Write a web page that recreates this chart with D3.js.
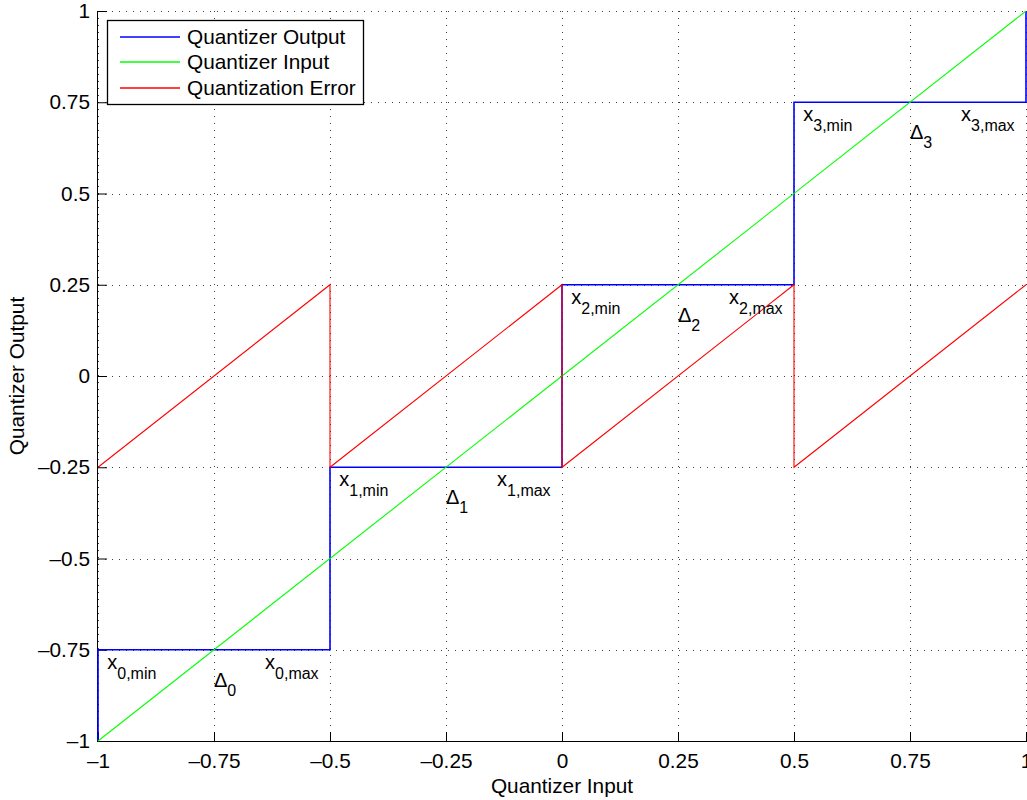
<!DOCTYPE html>
<html>
<head>
<meta charset="utf-8">
<script src="https://cdn.jsdelivr.net/npm/d3@7/dist/d3.min.js"></script>
<style>
  html, body { margin: 0; padding: 0; background: #fff; }
  text { font-family: "Liberation Sans", Arial, Helvetica, sans-serif; fill: #000; }
</style>
</head>
<body>
<svg id="chart" width="1027" height="800"></svg>
<script>
// ---- data ----
const outputX = [-1, -1, -0.5, -0.5, 0, 0, 0.5, 0.5, 1, 1];
const outputY = [-1, -0.75, -0.75, -0.25, -0.25, 0.25, 0.25, 0.75, 0.75, 1];
const inputX = [-1, 1];
const inputY = [-1, 1];
const errorX = [-1, -0.5, -0.5, 0, 0, 0.5, 0.5, 1];
const errorY = [-0.25, 0.25, -0.25, 0.25, -0.25, 0.25, -0.25, 0.25];

const xTicks = [-1, -0.75, -0.5, -0.25, 0, 0.25, 0.5, 0.75, 1];
const xTickLabels = ["\u20131", "\u20130.75", "\u20130.5", "\u20130.25", "0", "0.25", "0.5", "0.75", "1"];
const yTicks = [-1, -0.75, -0.5, -0.25, 0, 0.25, 0.5, 0.75, 1];
const yTickLabels = ["\u20131", "\u20130.75", "\u20130.5", "\u20130.25", "0", "0.25", "0.5", "0.75", "1"];

const seriesNames = ["Quantizer Output", "Quantizer Input", "Quantization Error"];
const seriesColors = ["#0000ff", "#00ff00", "#ff0000"];

// annotation texts (data coordinates, as MATLAB text() calls)
const annIndex = ["0", "1", "2", "3"];
const annMinX = [-0.98, -0.48, 0.02, 0.52];
const annMaxX = [-0.64, -0.14, 0.36, 0.86];
const annDeltaX = [-0.75, -0.25, 0.25, 0.75];
const annLabelY = [-0.802, -0.302, 0.198, 0.698];
const annDeltaY = [-0.852, -0.352, 0.148, 0.648];

// ---- layout ----
const svg = d3.select("#chart");
const L = 98, R = 1026, T = 11, B = 741;
const FS = 20.8;
const x = d3.scaleLinear().domain([-1, 1]).range([L, R]);
const y = d3.scaleLinear().domain([-1, 1]).range([B, T]);

svg.append("rect").attr("width", 1027).attr("height", 800).attr("fill", "#fff");

// grid
const grid = svg.append("g").attr("stroke", "#000").attr("stroke-width", 1)
  .attr("stroke-dasharray", "1,6").attr("fill", "none").attr("opacity", 0.75);
xTicks.forEach(t => grid.append("line").attr("x1", Math.round(x(t)) + 0.5).attr("x2", Math.round(x(t)) + 0.5).attr("y1", T).attr("y2", B));
yTicks.forEach(t => grid.append("line").attr("y1", Math.round(y(t)) + 0.5).attr("y2", Math.round(y(t)) + 0.5).attr("x1", L).attr("x2", R));

// axes (ticks inward, MATLAB style)
const xAxis = d3.axisBottom(x).tickValues(xTicks).tickSize(-9).tickPadding(15)
  .tickFormat((d, i) => xTickLabels[i]);
const gx = svg.append("g").attr("transform", `translate(0,${B})`).call(xAxis);
gx.select(".domain").remove();
gx.selectAll(".tick line").attr("stroke", "#000");
gx.selectAll(".tick text").attr("font-size", FS).attr("dy", "0.71em")
  .style("font-family", '"Liberation Sans", Arial, sans-serif').attr("y", 12);

const yAxis = d3.axisLeft(y).tickValues(yTicks).tickSize(-9).tickPadding(8)
  .tickFormat((d, i) => yTickLabels[i]);
const gy = svg.append("g").attr("transform", `translate(${L},0)`).call(yAxis);
gy.select(".domain").remove();
gy.selectAll(".tick line").attr("stroke", "#000");
gy.selectAll(".tick text").attr("font-size", FS)
  .style("font-family", '"Liberation Sans", Arial, sans-serif');

// axis lines
svg.append("line").attr("x1", L).attr("x2", R + 1).attr("y1", B + 0.5).attr("y2", B + 0.5).attr("stroke", "#000");
svg.append("line").attr("x1", L - 0.5).attr("x2", L - 0.5).attr("y1", T).attr("y2", B + 1).attr("stroke", "#000");

// data lines
const lineGen = d3.line().x(d => x(d[0])).y(d => y(d[1]));
const series = [
  d3.zip(outputX, outputY),
  d3.zip(inputX, inputY),
  d3.zip(errorX, errorY)
];
series.forEach((s, i) => {
  svg.append("path").datum(s).attr("d", lineGen).attr("fill", "none")
    .attr("stroke", seriesColors[i]).attr("stroke-width", i === 0 ? 1.6 : 1.1);
});

// annotations
const ann = svg.append("g");
function subLabel(px, py, main, sub, dy, mainSize) {
  const t = ann.append("text").attr("x", x(px)).attr("y", y(py)).attr("font-size", mainSize);
  t.append("tspan").text(main);
  t.append("tspan").attr("dy", dy).attr("font-size", 16).text(sub);
}
annIndex.forEach((k, i) => {
  subLabel(annMinX[i], annLabelY[i], "x", k + ",min", 10, 20);
  subLabel(annMaxX[i], annLabelY[i], "x", k + ",max", 10, 20);
  subLabel(annDeltaX[i], annDeltaY[i], "\u0394", k, 9, 20);
});

// axis titles
svg.append("text").attr("x", (L + R) / 2).attr("y", 793).attr("text-anchor", "middle")
  .attr("font-size", FS).text("Quantizer Input");
svg.append("text").attr("transform", `translate(24,${(T + B) / 2}) rotate(-90)`)
  .attr("text-anchor", "middle").attr("font-size", FS).text("Quantizer Output");

// legend
const lg = svg.append("g");
lg.append("rect").attr("x", 107.5).attr("y", 20.5).attr("width", 256).attr("height", 84)
  .attr("fill", "#fff").attr("stroke", "#000").attr("stroke-width", 1.3);
const legRowY = [37, 62, 88];
seriesNames.forEach((n, i) => {
  lg.append("line").attr("x1", 120).attr("x2", 180).attr("y1", legRowY[i]).attr("y2", legRowY[i])
    .attr("stroke", seriesColors[i]).attr("stroke-width", 1.4);
  lg.append("text").attr("x", 187).attr("y", legRowY[i]).attr("dy", "0.35em")
    .attr("font-size", FS).text(n);
});
</script>
</body>
</html>
